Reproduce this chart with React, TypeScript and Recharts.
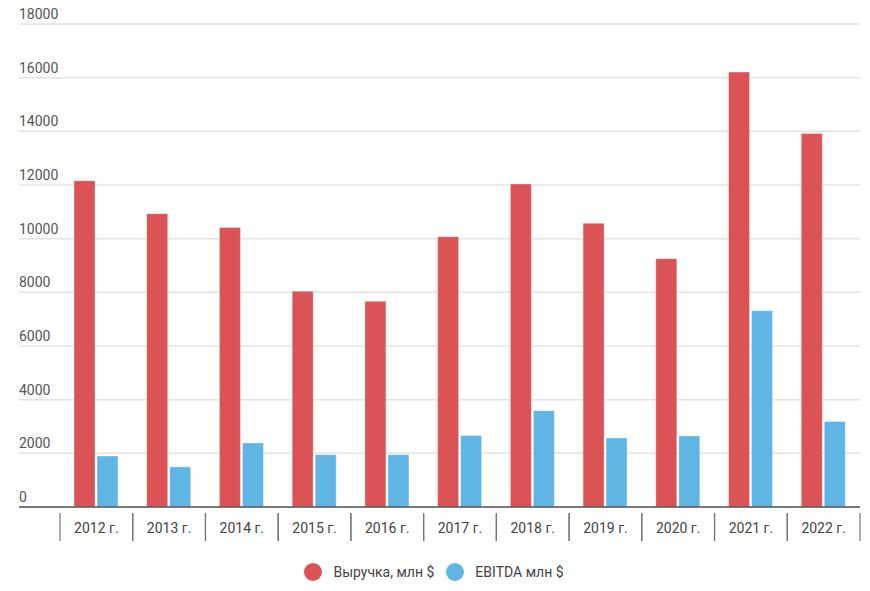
import React from "react";
import { BarChart, Bar, XAxis, YAxis, CartesianGrid, Legend } from "recharts";

const years = ["2012 г.", "2013 г.", "2014 г.", "2015 г.", "2016 г.", "2017 г.", "2018 г.", "2019 г.", "2020 г.", "2021 г.", "2022 г."];
const revenue = [12160, 10930, 10420, 8040, 7665, 10075, 12040, 10570, 9255, 16210, 13915];
const ebitda = [1900, 1495, 2385, 1950, 1950, 2660, 3590, 2575, 2650, 7315, 3190];
const yTicks = [0, 2000, 4000, 6000, 8000, 10000, 12000, 14000, 16000, 18000];

const seriesNames = ["Выручка, млн $", "EBITDA млн $"];
const colors = ["#DC5356", "#5FB6E4"];

const data = years.map((y, i) => ({ year: y, revenue: revenue[i], ebitda: ebitda[i] }));

const FONT = "Roboto, 'Noto Sans', sans-serif";

const renderYTick = (props: any) => {
  const { y, payload } = props;
  return (
    <text x={11} y={y - 5} fill="#555" fontSize={14} fontFamily={FONT} textAnchor="start">
      {payload.value}
    </text>
  );
};

const renderXTick = (props: any) => {
  const { x, y, payload } = props;
  const half = payload && payload.offset ? payload.offset : 36.4;
  return (
    <g>
      <line x1={x - half} x2={x - half} y1={y} y2={y + 28} stroke="#777" strokeWidth={1.2} />
      <line x1={x + half} x2={x + half} y1={y} y2={y + 28} stroke="#777" strokeWidth={1.2} />
      <text x={x} y={y + 20} fill="#444" fontSize={14} fontFamily={FONT} textAnchor="middle">
        {payload.value}
      </text>
    </g>
  );
};

const LegendContent = () => (
  <div style={{ display: "flex", justifyContent: "center", alignItems: "center", height: 24, fontFamily: FONT, fontSize: 14, color: "#444", paddingRight: 10 }}>
    {seriesNames.map((n, i) => (
      <div key={n} style={{ display: "flex", alignItems: "center", marginRight: i === 0 ? 12 : 0 }}>
        <span style={{ display: "inline-block", width: 18, height: 18, borderRadius: 9, background: colors[i], marginRight: 11 }} />
        <span>{n}</span>
      </div>
    ))}
  </div>
);

export default function App() {
  return (
    <div style={{ width: 862, height: 583 }}>
      <BarChart
        width={862}
        height={583}
        data={data}
        margin={{ top: 16, right: 10, left: 10, bottom: 7 }}
        barGap={2}
        barSize={21}
      >
        <CartesianGrid horizontal vertical={false} stroke="#e4e4e4" strokeWidth={1.5} />
        <YAxis
          width={1}
          domain={[0, 18000]}
          ticks={yTicks}
          axisLine={false}
          tickLine={false}
          tick={renderYTick}
          interval={0}
        />
        <XAxis
          dataKey="year"
          height={53}
          padding={{ left: 41, right: 0 }}
          axisLine={{ stroke: "#555", strokeWidth: 1.5 }}
          tickLine={false}
          tick={renderXTick}
          tickMargin={0}
          interval={0}
        />
        <Legend verticalAlign="bottom" content={<LegendContent />} />
        <Bar dataKey="revenue" name={seriesNames[0]} fill={colors[0]} stroke="#ffffff" strokeOpacity={0.35} strokeWidth={1} isAnimationActive={false} />
        <Bar dataKey="ebitda" name={seriesNames[1]} fill={colors[1]} stroke="#ffffff" strokeOpacity={0.35} strokeWidth={1} isAnimationActive={false} />
      </BarChart>
    </div>
  );
}
